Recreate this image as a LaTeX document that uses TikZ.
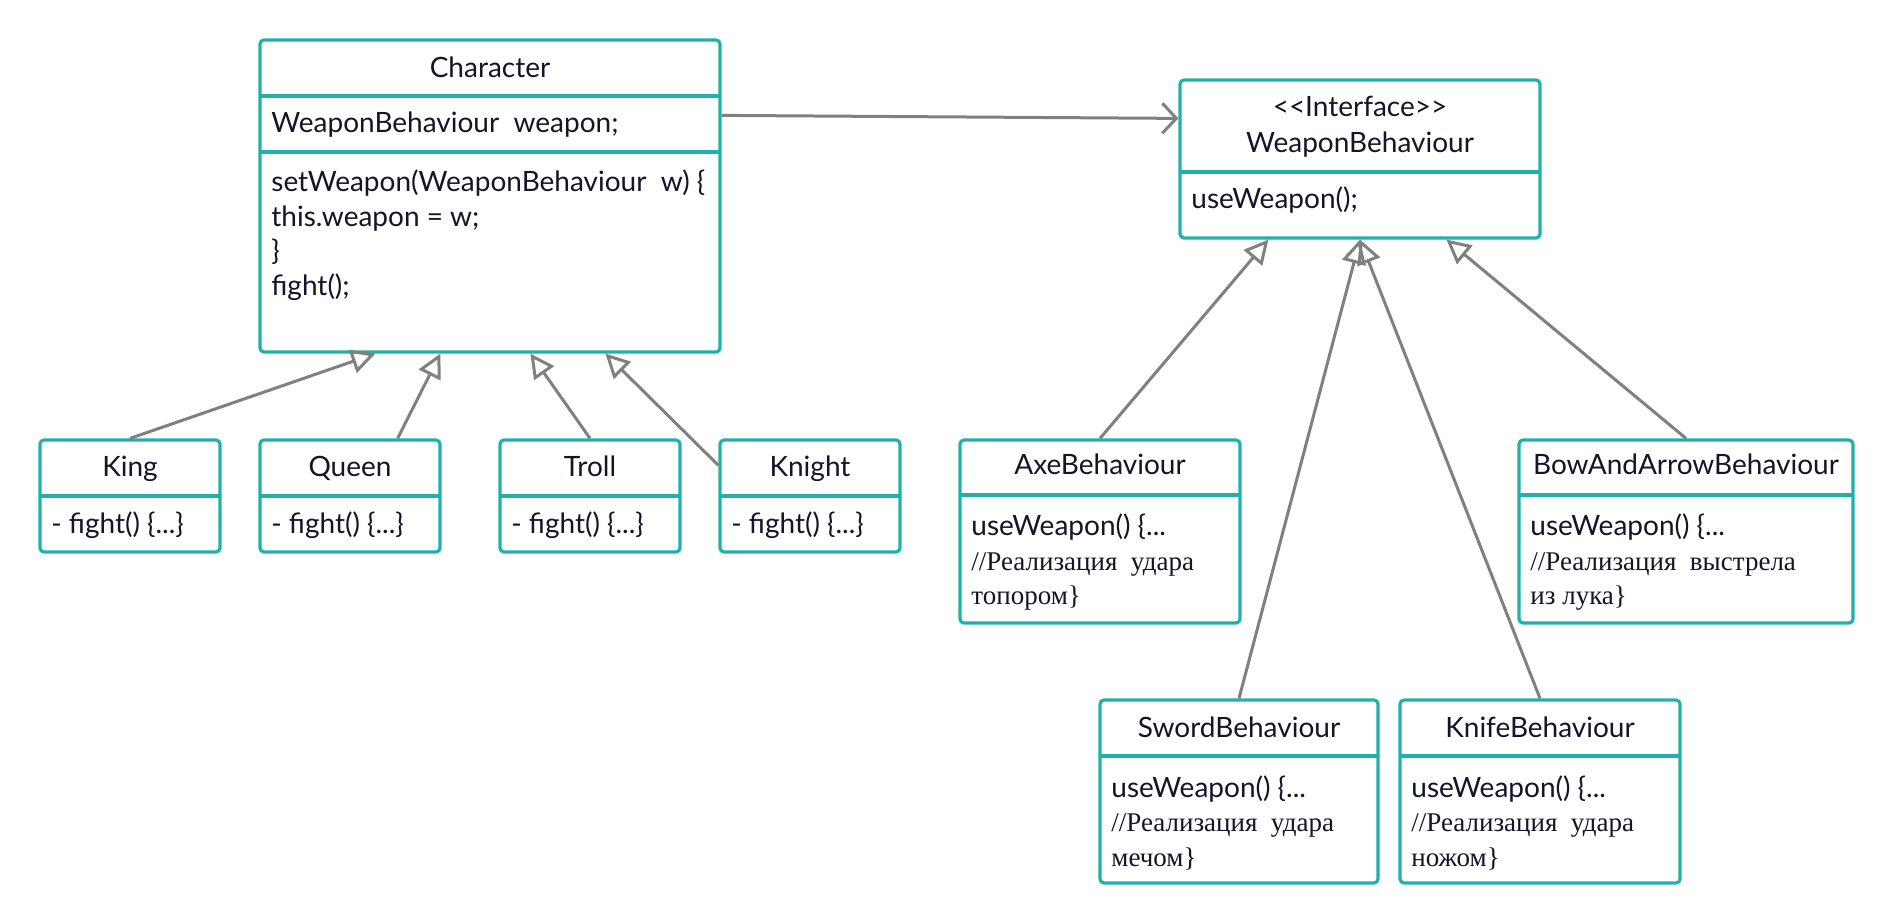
\documentclass[tikz,border=0pt]{standalone}
\usepackage{fontspec}
\setmainfont{Lato}
\newfontfamily\serifru{Liberation Serif}
\usetikzlibrary{arrows.meta,calc,fit}
\definecolor{boxteal}{RGB}{32,178,170}
\definecolor{linegray}{RGB}{128,128,128}
\definecolor{inkdark}{RGB}{20,20,42}
\newcommand\rucomment{\serifru\fontsize{13.5}{17.25}\selectfont}
\tikzset{
  umlbox/.style={draw=boxteal,fill=white,line width=1.6pt,rounded corners=2pt,inner sep=0pt},
  divider/.style={draw=boxteal,line width=1.6pt},
  classname/.style={anchor=base,inner sep=0pt,text=inkdark,font=\fontsize{14}{17.25}\selectfont},
  members/.style={anchor=base west,inner sep=0pt,text=inkdark,align=flush left,text width=300pt,font=\fontsize{14}{17.25}\selectfont},
  inherit/.style={-{Triangle[open,length=12pt,width=12pt]},line width=1.5pt,draw=linegray},
  assoc/.style={-{Straight Barb[length=7pt,width=15pt]},line width=1.5pt,draw=linegray}
}

\begin{document}
\begin{tikzpicture}[x=0.5pt,y=-0.5pt]
\useasboundingbox (0,0) rectangle (1894,924);

% Character and its subclasses
\node[umlbox,fit={(260,40) (720,352)}] (character) {};
\draw[divider] (260,96) -- (720,96);
\draw[divider] (260,152) -- (720,152);
\node[classname] (character-name) at (490,78) {Character};
\node[members] (character-attr) at (271,133) {WeaponBehaviour\ \ weapon;};
\node[members] (character-ops) at (271,192)
  {setWeapon(WeaponBehaviour\ \ w) \{\\this.weapon = w;\\\}\\fight();};

\foreach \name/\lab/\x in {king/King/40,queen/Queen/260,troll/Troll/500,knight/Knight/720}{
  \node[umlbox,fit={(\x,440) (\x+180,552)}] (\name) {};
  \draw[divider] (\x,496) -- (\x+180,496);
  \node[classname] (\name-name) at (\x+90,477) {\lab};
  \node[members] (\name-ops) at (\x+11,533) {- fight() \{...\}};
}

\draw[inherit] (king.north) -- ($(character.south west)+(117,0)$);
\draw[inherit] ($(queen.north east)+(-44,0)$) -- ($(character.south west)+(182,0)$);
\draw[inherit] (troll.north) -- ($(character.south west)+(272,0)$);
\draw[inherit] ($(knight.north west)+(0,27)$) -- ($(character.south west)+(347,0)$);

% WeaponBehaviour and its implementations
\node[umlbox,fit={(1180,80) (1540,238)}] (weapon) {};
\draw[divider] (1180,172) -- (1540,172);
\node[classname] (weapon-stereo) at (1360,117) {<{}<Interface>{}>};
\node[classname] (weapon-name) at (1360,153) {WeaponBehaviour};
\node[members] (weapon-ops) at (1191,209) {useWeapon();};

\node[umlbox,fit={(960,440) (1240,623)}] (axe) {};
\draw[divider] (960,495) -- (1240,495);
\node[classname] (axe-name) at (1100,475) {AxeBehaviour};
\node[members] (axe-ops) at (971,536)
  {useWeapon() \{...\\\rucomment//Реализация\ \ удара\\топором\}};

\node[umlbox,fit={(1519,440) (1853,623)}] (bow) {};
\draw[divider] (1519,495) -- (1853,495);
\node[classname] (bow-name) at (1686,475) {BowAndArrowBehaviour};
\node[members] (bow-ops) at (1530,536)
  {useWeapon() \{...\\\rucomment//Реализация\ \ выстрела\\из лука\}};

\node[umlbox,fit={(1100,700) (1378,883)}] (sword) {};
\draw[divider] (1100,756) -- (1378,756);
\node[classname] (sword-name) at (1239,737) {SwordBehaviour};
\node[members] (sword-ops) at (1111,797)
  {useWeapon() \{...\\\rucomment//Реализация\ \ удара\\мечом\}};

\node[umlbox,fit={(1400,700) (1680,883)}] (knife) {};
\draw[divider] (1400,756) -- (1680,756);
\node[classname] (knife-name) at (1540,737) {KnifeBehaviour};
\node[members] (knife-ops) at (1411,797)
  {useWeapon() \{...\\\rucomment//Реализация\ \ удара\\ножом\}};

\draw[inherit] (axe.north) -- ($(weapon.south west)+(90,0)$);
\draw[inherit] (sword.north) -- (weapon.south);
\draw[inherit] (knife.north) -- (weapon.south);
\draw[inherit] (bow.north) -- ($(weapon.south west)+(268,0)$);

\draw[assoc] ($(character.north east)+(0,77)$) -- ($(weapon.north west)+(0,40)$);

\end{tikzpicture}
\end{document}
